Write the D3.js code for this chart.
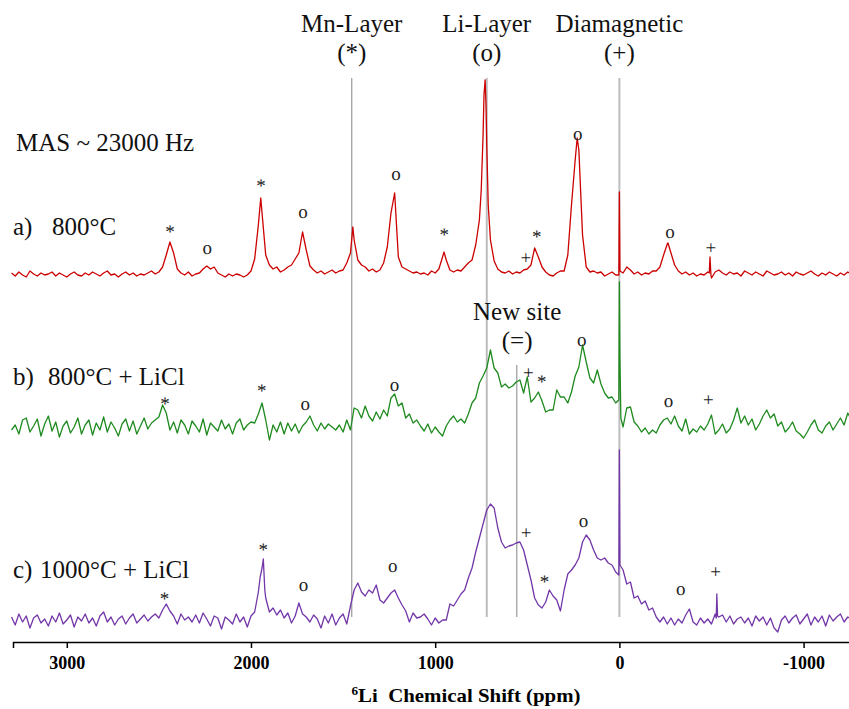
<!DOCTYPE html>
<html>
<head>
<meta charset="utf-8">
<script src="https://cdn.jsdelivr.net/npm/d3@7"></script>
<style>
  body { margin: 0; background: #fff; }
  text { font-family: "Liberation Serif", "Times New Roman", serif; }
</style>
</head>
<body>
<script>
// spectra sampled every 20 ppm from 3300 down to -1260 (intensity above each baseline, a.u.)
const ppmStart = 3300;
const ppmStep = -20;

const redVals = [
  2, -1, 3, 0, -2, 4, 1, -1, 2, 0,
  1, 3, -1, 2, 0, -2, 1, 3, 0, -1,
  2, 0, 3, 1, -1, 2, 4, 0, 1, -2,
  1, 3, 0, 2, -1, 1, 0, 2, 4, 1,
  3, 8, 20, 33, 22, 6, 2, 0, 3, -1,
  1, 2, 6, 9, 6, 8, 2, 0, -2, 1,
  -1, 1, 0, -2, 0, 4, 16, 50, 62, 20,
  10, 6, 8, 3, 5, 8, 10, 16, 22, 43,
  25, 9, 5, 2, 4, 1, 3, 5, 2, 4,
  5, 12, 22, 35, 15, 10, 8, 4, 6, 3,
  5, 12, 28, 62, 82, 18, 8, 6, 4, 2,
  3, 1, 2, 0, 4, 2, 6, 18, 15, 5,
  3, 5, 4, 8, 12, 15, 30, 55, 140, 130,
  35, 14, 6, 3, 2, 4, 1, 3, 2, 5,
  6, 10, 27, 18, 8, 3, 0, -1, 2, 4,
  4, 20, 70, 115, 125, 40, 8, 3, 4, 2,
  3, -1, 1, 3, 0, 83, 2, 8, 5, 1,
  3, 0, 2, 1, 4, 4, 8, 20, 31, 22,
  10, 4, 1, 3, 0, 2, -1, 1, 0, 3,
  -3, 3, 5, 2, 0, 3, 1, 2, -1, 4,
  2, 0, 3, 1, -1, 4, 2, 0, 1, 3,
  0, 2, -1, 3, 1, 0, 2, 4, 1, -1,
  2, 0, 3, 1, -1, 2, 0, 3, 1
];
// extra hand-read points on narrow peaks [ppm, intensity]
const redSharp = [
  [1947, 77], [1447, 48], [952, 23], [750, 85], [735, 180], [729, 195],
  [724, 170], [712, 70], [229, 137], [3, 0], [0, 83], [-3, 4],
  [-264, 32], [-488, 2], [-492, 18], [-497, 0]
];

const greenVals = [
  -2, 3, -6, 8, 10, -4, 2, 9, -8, 4,
  12, -3, 6, -9, 2, 7, -5, 1, 10, -6,
  3, 8, -7, 5, -2, 11, -4, 6, 0, -8,
  4, 9, -3, 7, -6, 2, 10, -1, 5, 8,
  11, 23, 15, -2, 6, -5, 8, 3, -6, 7,
  2, -4, 9, -7, 5, 1, -3, 8, -1, 4,
  -6, 5, 9, -2, 3, 6, 5, 14, 25, 8,
  -12, 3, -4, 6, -6, 5, -3, 4, -5, 2,
  6, 12, 3, -3, 5, -1, 4, 1, -2, 3,
  -4, 8, -2, 20, 18, 10, 22, 12, 7, 16,
  9, 18, 12, 30, 34, 22, 25, 10, 14, 5,
  8, 2, -3, 4, -5, 1, -4, -8, 2, 8,
  12, 6, 9, 5, 14, 25, 30, 45, 52, 60,
  78, 60, 55, 41, 44, 40, 42, 46, 48, 35,
  51, 26, 30, 36, 27, 16, 18, 18, 38, 31,
  31, 25, 36, 52, 61, 83, 66, 50, 45, 58,
  44, 35, 30, 31, 25, 146, 1, 20, 21, 6,
  2, -4, 0, -6, -2, -5, 3, 8, 10, 4,
  12, 2, -3, 9, -6, -1, -4, 2, -2, 4,
  13, -6, -2, 4, -5, -1, 8, 20, 5, 12,
  3, 9, -2, 4, 12, 18, 10, 14, 2, 6,
  -4, 0, 6, -3, -6, -10, -4, 3, 8, -2,
  -5, 2, 6, -2, 4, 10, 3, 15, 8
];
const greenSharp = [[3, 28], [0, 146], [-3, 70], [-8, 10]];

const purpleVals = [
  3, -5, 6, -2, 4, -8, 2, 5, -3, 1,
  -6, 4, -2, 7, -4, 0, 5, -7, 3, -1,
  6, -3, 2, -6, 4, 8, -2, 3, -5, 1,
  4, -4, 2, 6, -3, 1, 5, -1, 3, 6,
  2, 10, 16, 9, 4, -4, 6, 0, 3, -2,
  5, -3, 7, 1, -6, 4, 2, -9, 3, 0,
  -4, 6, -2, 3, -7, 4, 8, 28, 52, 22,
  8, 12, 5, 10, 2, 7, -3, 4, 17, 6,
  3, -2, 5, 1, -8, 4, -3, 6, -5, 2,
  6, -4, 14, 30, 37, 28, 24, 30, 27, 35,
  20, 17, 22, 27, 30, 22, 15, 9, -2, 7,
  2, 3, 6, 1, -5, 2, -3, 0, 0, 16,
  14, 20, 26, 30, 42, 52, 68, 82, 96, 110,
  116, 112, 92, 78, 72, 74, 75, 77, 78, 70,
  55, 40, 22, 15, 12, 18, 30, 24, 20, 9,
  30, 46, 50, 55, 62, 78, 85, 80, 70, 62,
  60, 62, 57, 55, 48, 170, 50, 36, 38, 22,
  24, 16, 19, 10, 12, 3, -2, 3, -4, 2,
  -5, 1, -3, 5, 11, -2, -5, 2, -3, 1,
  -4, 6, 3, 5, -2, 4, -4, 1, 3, -3,
  2, -6, 4, -1, 3, -5, 2, -8, -12, 0,
  4, -3, 2, 5, -4, 1, 6, -5, 3, -2,
  4, -6, 5, -1, 3, 6, -2, 3, 1
];
const purpleSharp = [
  [1950, 43], [1933, 61], [1925, 30], [3, 45], [0, 170], [-3, 55],
  [-526, 2], [-529, 26], [-533, 4]
];

// peak assignment marks [ppm, symbol, height above baseline]
const redMarks = [
  [2440, '*', 46], [2238, 'o', 25], [1946, '*', 92], [1717, 'o', 61],
  [1213, 'o', 99], [951, '*', 43], [508, '+', 16], [448, '*', 41],
  [226, 'o', 139], [-275, 'o', 41], [-496, '+', 26]
];
const greenMarks = [
  [2467, '*', 27], [1941, '*', 40], [1706, 'o', 22], [1221, 'o', 41],
  [494, '+', 54], [421, '*', 49], [204, 'o', 86], [-266, 'o', 25], [-483, '+', 27]
];
const purpleMarks = [
  [2470, '*', 24], [1933, '*', 73], [1715, 'o', 33], [1230, 'o', 52],
  [506, '+', 86], [407, '*', 41], [195, 'o', 97], [-333, 'o', 29], [-523, '+', 47]
];

const tickValues = [3000, 2000, 1000, 0, -1000];
const siteShifts = [1453, 720, 557, 0];

// ---- layout ----
const width = 849, height = 709;
const axisY = 642;

const svg = d3.select('body').append('svg')
  .attr('width', width)
  .attr('height', height);

const x = d3.scaleLinear().domain([3292, -1252]).range([13, 850]);

function makeSeries(vals, sharp) {
  const m = new Map();
  vals.forEach((v, i) => m.set(ppmStart + i * ppmStep, v));
  sharp.forEach(([p, v]) => m.set(p, v));
  return Array.from(m.entries()).sort((a, b) => b[0] - a[0]);
}

// reference lines for site positions
const lineStyles = [
  { top: 78, color: '#9a9a9a', w: 1.2 },
  { top: 78, color: '#bdbdbd', w: 2 },
  { top: 365, color: '#9a9a9a', w: 1.2 },
  { top: 78, color: '#bdbdbd', w: 2 }
];
svg.append('g').selectAll('line')
  .data(siteShifts)
  .join('line')
  .attr('x1', d => x(d)).attr('x2', d => x(d))
  .attr('y1', (d, i) => lineStyles[i].top)
  .attr('y2', 617)
  .attr('stroke', (d, i) => lineStyles[i].color)
  .attr('stroke-width', (d, i) => lineStyles[i].w);

const traces = [
  { vals: redVals, sharp: redSharp, marks: redMarks, base: 275, color: '#cc0000' },
  { vals: greenVals, sharp: greenSharp, marks: greenMarks, base: 428, color: '#1f8a1f' },
  { vals: purpleVals, sharp: purpleSharp, marks: purpleMarks, base: 620, color: '#7236a8' }
];

const markShift = { '*': 0.47, 'o': 0.23, '+': 0.27 };

traces.forEach(t => {
  const y = d3.scaleLinear().domain([0, 200]).range([t.base, t.base - 200]);
  const data = makeSeries(t.vals, t.sharp);
  svg.append('path')
    .datum(data)
    .attr('fill', 'none')
    .attr('stroke', t.color)
    .attr('stroke-width', 1.3)
    .attr('stroke-linejoin', 'round')
    .attr('d', d3.line().x(d => x(d[0])).y(d => y(d[1])));

  svg.append('g').selectAll('text')
    .data(t.marks)
    .join('text')
    .attr('x', d => x(d[0]))
    .attr('y', d => y(d[2]) + markShift[d[1]] * 19)
    .attr('text-anchor', 'middle')
    .attr('font-size', 19)
    .attr('fill', '#222')
    .style('text-rendering', 'geometricPrecision')
    .text(d => d[1]);
});

// x axis
const axis = svg.append('g')
  .attr('transform', `translate(0,${axisY})`)
  .call(d3.axisBottom(x).tickValues(tickValues).tickSizeOuter(0).tickSize(6).tickPadding(8)
    .tickFormat(d => String(d)));
axis.select('.domain').attr('stroke', '#000').attr('stroke-width', 1.5);
axis.selectAll('.tick line').attr('stroke', '#000').attr('stroke-width', 1.5);
axis.selectAll('.tick text')
  .attr('font-family', '"Liberation Serif", serif')
  .attr('font-weight', 'bold')
  .attr('font-size', 18)
  .attr('fill', '#000');

const title = svg.append('text')
  .attr('x', 466).attr('y', 702)
  .attr('text-anchor', 'middle')
  .attr('font-weight', 'bold')
  .attr('font-size', 19)
  .attr('textLength', 229)
  .attr('lengthAdjust', 'spacingAndGlyphs');
title.append('tspan').attr('font-size', 12).attr('dy', -7).text('6');
title.append('tspan').attr('dy', 7).text('Li\u00a0 Chemical Shift (ppm)');

// site headers
const headers = [
  ['Mn-Layer', '(*)', 1453, 32],
  ['Li-Layer', '(o)', 720, 32],
  ['Diamagnetic', '(+)', 0, 32],
  ['New site', '(=)', 555, 320]
];
headers.forEach(([a, b, p, yy]) => {
  svg.append('text').attr('x', x(p)).attr('y', yy)
    .attr('text-anchor', 'middle').attr('font-size', 25).attr('fill', '#111').text(a);
  svg.append('text').attr('x', x(p)).attr('y', yy + 29)
    .attr('text-anchor', 'middle').attr('font-size', 25).attr('fill', '#111').text(b);
});

// sample labels
svg.append('text').attr('x', 16).attr('y', 151).attr('font-size', 25).attr('fill', '#111')
  .text('MAS ~ 23000 Hz');
const sampleLabels = [
  ['a)', '800°C', 235, 52],
  ['b)', '800°C + LiCl', 385, 48],
  ['c)', '1000°C + LiCl', 578, 40]
];
sampleLabels.forEach(([a, b, yy, bx]) => {
  const t = svg.append('text').attr('y', yy).attr('font-size', 25).attr('fill', '#111');
  t.append('tspan').attr('x', 13).text(a);
  t.append('tspan').attr('x', bx).text(b);
});
</script>
</body>
</html>
